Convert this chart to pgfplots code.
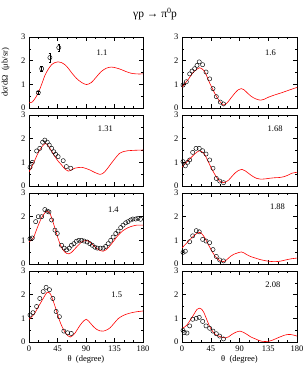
\documentclass[border=0pt]{standalone}
\usepackage{pgfplots}
\pgfplotsset{compat=1.18}
\usepackage{fontspec}
\setmainfont{Liberation Serif}
\begin{document}
\tikzset{elab/.style={font=\fontsize{8.5}{9}\selectfont}}
\pgfplotsset{
  panel/.style={scale only axis, height=71pt,
    xmin=0,xmax=180,ymin=0,ymax=3,
    xtick={0,45,90,135,180}, minor xtick={15,30,60,75,105,120,150,165},
    ytick={0,1,2,3}, minor ytick={0.5,1.5,2.5},
    major tick length=4pt, minor tick length=2pt,
    tick style={black, line width=0.4pt},
    axis line style={line width=0.5pt},
    tick label style={font=\fontsize{8.5}{9}\selectfont},
    /pgf/number format/assume math mode=true,
    xticklabels={}, clip=true,
    label style={font=\fontsize{8.5}{9}\selectfont}},
  lcol/.style={panel, width=114pt},
  rcol/.style={panel, width=115pt},
  theory/.style={red, line width=0.6pt, smooth, no marks},
  exper/.style={only marks, mark=o, mark size=2.1pt, black, mark options={line width=0.45pt}}
}
\begin{tikzpicture}
\path (0pt,0pt) rectangle (300pt,369pt);
\node[font=\fontsize{11.5}{12}\selectfont] at (150pt,355pt) {γp → π\raisebox{0.9ex}{\fontsize{8}{8}\selectfont 0}p};

% Row 1 left: 1.1
\begin{axis}[lcol, at={(24pt,261pt)}, anchor=south west,
  ylabel={dσ/dΩ \ (μb/sr)}, ylabel style={at={(-0.14,0.5)}}]
\addplot[theory] coordinates {(0,0.22) (5,0.25) (10,0.42) (14.7,0.65) (20,1.0) (25,1.37) (30,1.62) (35.7,1.83) (41,1.92) (46,1.95) (51,1.92) (56.7,1.83) (62,1.68) (67,1.5) (75,1.25) (83,1.08) (90.8,0.99) (98.6,1.08) (106,1.3) (114,1.54) (122,1.68) (130,1.73) (138,1.69) (146,1.62) (154,1.53) (161,1.47) (170,1.44) (180,1.44)};
\addplot[exper, error bars/.cd, y dir=both, y explicit, error bar style={line width=0.4pt}, error mark options={rotate=90, mark size=1.2pt, line width=0.4pt}] coordinates {(14.7,0.65) +- (0,0.08) (20,1.66) +- (0,0.1) (33,2.13) +- (0,0.2) (47,2.55) +- (0,0.15)};
\node[elab] at (rel axis cs:0.64,0.78) {1.1};
\end{axis}

% Row 1 right: 1.6
\begin{axis}[rcol, at={(177pt,261pt)}, anchor=south west]
\addplot[theory] coordinates {(0,0.87) (5,1.05) (10.4,1.23) (16,1.45) (21,1.59) (27.6,1.70) (34,1.59) (38,1.4) (41.7,1.15) (47,0.85) (52,0.58) (56,0.4) (60,0.25) (65,0.12) (69,0.17) (73,0.29) (78,0.47) (83.5,0.65) (88,0.77) (93,0.82) (97,0.77) (101.7,0.65) (108,0.5) (115,0.39) (122.6,0.33) (128,0.36) (135.6,0.46) (146,0.56) (156.5,0.65) (168,0.76) (180,0.87)};
\addplot[exper] coordinates {(1.6,0.97) (6.8,1.11) (12,1.44) (15.7,1.56) (19.8,1.66) (23.5,1.8) (27,1.95) (32.3,1.83) (37.6,1.52) (43.3,1.23) (48.5,0.82) (53.7,0.48) (60,0.25) (65,0.17)};
\node[elab] at (rel axis cs:0.77,0.78) {1.6};
\end{axis}

% Row 2 left: 1.31
\begin{axis}[lcol, at={(24pt,183pt)}, anchor=south west]
\addplot[theory] coordinates {(0,0.6) (4,0.8) (9.4,1.1) (13,1.32) (17,1.52) (21,1.68) (26,1.8) (29,1.75) (33,1.59) (37,1.42) (41,1.24) (46,1.05) (51.4,0.89) (56,0.74) (62,0.63) (67,0.68) (72,0.75) (78,0.78) (83,0.79) (90,0.74) (96,0.68) (104,0.57) (112,0.49) (116,0.52) (119.6,0.6) (125,0.78) (130,0.96) (137,1.2) (143,1.38) (150,1.46) (156,1.49) (168,1.51) (180,1.52)};
\addplot[exper] coordinates {(1.6,0.79) (5.2,1.0) (12,1.48) (17,1.59) (21.5,1.85) (25,1.94) (28.9,1.85) (32,1.73) (35.7,1.59) (39,1.45) (42,1.34) (46,1.24) (54,1.07) (59,0.82) (66,0.75)};
\node[elab] at (rel axis cs:0.67,0.8) {1.31};
\end{axis}

% Row 2 right: 1.68
\begin{axis}[rcol, at={(177pt,183pt)}, anchor=south west]
\addplot[theory] coordinates {(0,0.79) (5,0.95) (10.4,1.1) (16,1.25) (21,1.38) (27.6,1.49) (34,1.38) (38,1.2) (41.7,0.99) (47,0.7) (52,0.46) (56,0.3) (60,0.18) (65,0.14) (69,0.18) (73,0.25) (78,0.4) (83.5,0.56) (88,0.65) (94,0.70) (99,0.64) (104,0.54) (110,0.42) (117,0.32) (123,0.29) (130,0.30) (138,0.33) (146,0.35) (153,0.36) (159,0.39) (166,0.46) (172,0.54) (180,0.58)};
\addplot[exper] coordinates {(1.6,1.03) (5.2,0.85) (8.9,1.0) (12,1.1) (16.7,1.42) (21.9,1.59) (27,1.59) (32.3,1.49) (37.6,1.35) (43.3,1.1) (48.5,0.75) (53.7,0.32) (59,0.21) (65,0.14)};
\node[elab] at (rel axis cs:0.81,0.8) {1.68};
\end{axis}

% Row 3 left: 1.4
\begin{axis}[lcol, at={(24pt,105pt)}, anchor=south west]
\addplot[theory] coordinates {(0,0.93) (6.8,1.1) (10.5,1.35) (14.7,1.64) (18.5,1.88) (22.6,2.07) (27.8,2.24) (33,2.14) (37,1.85) (41,1.5) (45,1.15) (48.8,0.86) (52.5,0.65) (56.7,0.5) (60,0.44) (63.5,0.43) (67.5,0.5) (72.4,0.64) (78,0.8) (83,0.93) (90.8,1.0) (96,0.93) (101,0.81) (106,0.68) (112,0.57) (117,0.54) (122,0.6) (127.5,0.76) (134,0.98) (140.6,1.21) (148,1.4) (156,1.53) (163,1.6) (169.5,1.64) (180,1.64)};
\addplot[exper] coordinates {(1.6,1.07) (5.2,1.1) (10.5,1.79) (14.7,2.0) (20,2.0) (25,2.3) (28.9,2.23) (31.5,2.2) (35.7,1.86) (41,1.43) (44.6,1.29) (51.4,0.79) (55.6,0.67) (59.3,0.6) (63.5,0.67) (67,0.79) (70.8,0.86) (74.9,0.96) (78.7,1.0) (83,1.0) (87,0.97) (91.8,0.93) (96,0.86) (100,0.79) (104,0.71) (108,0.67) (112.6,0.67) (117,0.67) (121,0.74) (125,0.86) (129,1.0) (132.8,1.14) (137,1.29) (140.6,1.39) (144.8,1.54) (148.5,1.64) (152.7,1.74) (156.4,1.79) (160.6,1.86) (164,1.9) (168.5,1.9) (172,1.93) (176,1.89)};
\node[elab] at (rel axis cs:0.74,0.77) {1.4};
\end{axis}

% Row 3 right: 1.88
\begin{axis}[rcol, at={(177pt,105pt)}, anchor=south west]
\addplot[theory] coordinates {(0,0.68) (7.8,0.9) (15.7,1.12) (23.5,1.3) (28.7,1.33) (32,1.25) (36.5,1.07) (40,0.88) (44,0.68) (48,0.49) (52,0.32) (56,0.2) (60,0.13) (65,0.1) (70,0.18) (75.7,0.32) (81,0.41) (86,0.46) (93,0.51) (97,0.47) (101.7,0.39) (108,0.31) (115,0.25) (122,0.19) (130.4,0.14) (138,0.11) (146,0.1) (154,0.12) (162,0.17) (171,0.22) (180,0.25)};
\addplot[exper] coordinates {(1.6,0.49) (5.2,0.54) (12,0.94) (16.7,1.19) (22.4,1.41) (27,1.36) (32.3,1.04) (37.6,0.97) (43.3,0.9) (48.5,0.61) (53.7,0.32) (59,0.17) (65,0.13)};
\node[elab] at (rel axis cs:0.83,0.8) {1.88};
\end{axis}

% Row 4 left: 1.5
\begin{axis}[lcol, at={(24pt,27pt)}, anchor=south west,
  xticklabels={0,45,90,135,180}, xlabel={θ \ (degree)}, xlabel style={yshift=3pt}]
\addplot[theory] coordinates {(0,0.96) (7.8,1.17) (15.7,1.53) (23.5,1.89) (28.7,2.1) (33.9,2.03) (38,1.75) (41.7,1.46) (45.5,1.13) (49.6,0.81) (53.5,0.58) (57.4,0.39) (61,0.27) (65,0.21) (69,0.27) (73,0.39) (78,0.6) (83.5,0.81) (90.3,0.96) (96.5,0.81) (101,0.67) (107,0.53) (112,0.47) (117.4,0.46) (122,0.5) (128,0.6) (134,0.78) (141,0.99) (148,1.11) (156.5,1.2) (168,1.27) (180,1.31)};
\addplot[exper] coordinates {(1.6,1.14) (6.3,1.24) (12,1.5) (17,1.84) (22.4,2.13) (27,2.31) (32.3,2.21) (37.6,1.84) (42.8,1.29) (48,1.07) (55,0.46) (61,0.39) (66.8,0.36)};
\node[elab] at (rel axis cs:0.77,0.66) {1.5};
\end{axis}

% Row 4 right: 2.08
\begin{axis}[rcol, at={(177pt,27pt)}, anchor=south west,
  xticklabels={0,45,90,135,180}, xlabel={θ \ (degree)}, xlabel style={yshift=3pt}]
\addplot[theory] coordinates {(0,0.58) (4,0.63) (7.8,0.72) (15.7,1.04) (23.5,1.38) (27.6,1.43) (31,1.38) (34,1.26) (38,1.0) (41.7,0.75) (45.5,0.55) (49.6,0.39) (53,0.3) (57.4,0.25) (63,0.2) (68,0.17) (73,0.22) (78,0.32) (85,0.42) (91,0.46) (96,0.41) (101.7,0.32) (108,0.21) (115,0.13) (120,0.07) (125,0.03) (130,0.02) (135.6,0.03) (141,0.07) (146,0.13) (154,0.22) (162,0.3) (169.6,0.32) (175,0.29) (180,0.25)};
\addplot[exper] coordinates {(1.6,0.49) (3.6,0.4) (7.8,0.38) (12,0.68) (16.7,0.96) (22.4,1.0) (27,1.04) (32.3,0.87) (37.6,0.68) (43.3,0.58) (48.5,0.46) (53.7,0.35) (59,0.25) (65,0.13)};
\node[elab] at (rel axis cs:0.79,0.8) {2.08};
\end{axis}
\pgfresetboundingbox
\path (0pt,0pt) rectangle (300pt,369pt);
\end{tikzpicture}
\end{document}
